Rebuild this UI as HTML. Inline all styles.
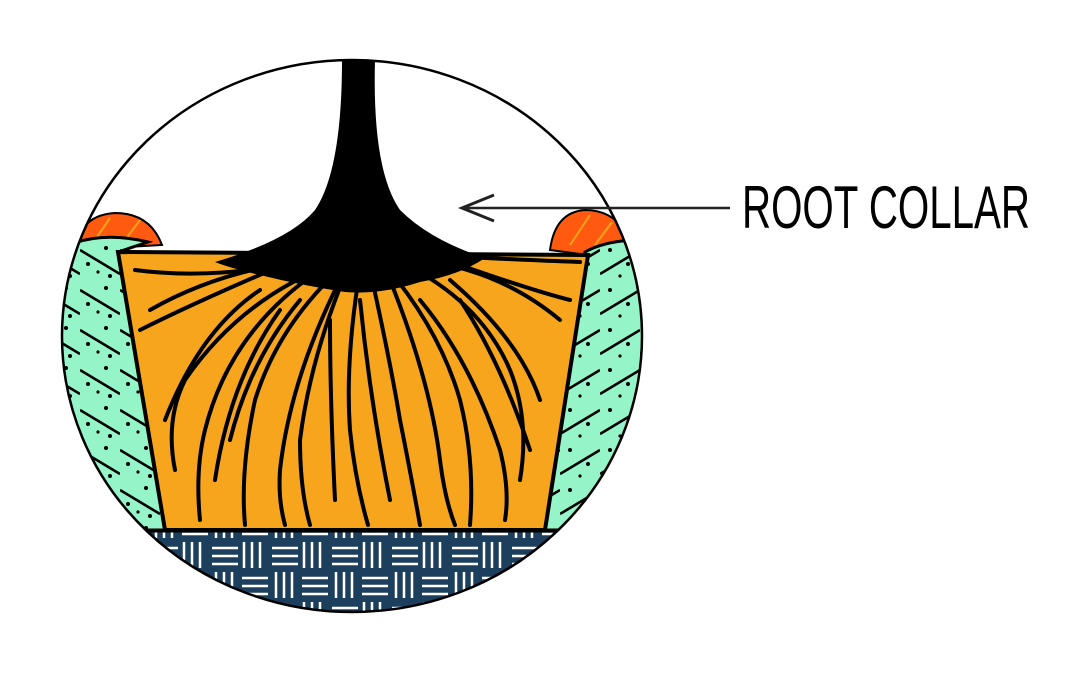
<!DOCTYPE html>
<html><head><meta charset="utf-8"><style>html,body{margin:0;padding:0;background:#fff;width:1080px;height:675px;overflow:hidden}</style></head>
<body>
<svg width="1080" height="675" viewBox="0 0 1080 675" xmlns="http://www.w3.org/2000/svg">
<defs>
<clipPath id="c"><ellipse cx="352" cy="336" rx="290" ry="276"/></clipPath>
<pattern id="weave" width="60" height="60" patternUnits="userSpaceOnUse">
<rect width="60" height="60" fill="#1d3f5e"/>
<g stroke="#fff" stroke-width="2.5">
<line x1="4" y1="2" x2="4" y2="28"/><line x1="12" y1="2" x2="12" y2="28"/><line x1="20" y1="2" x2="20" y2="28"/>
<line x1="32" y1="8" x2="58" y2="8"/><line x1="32" y1="16" x2="58" y2="16"/><line x1="32" y1="24" x2="58" y2="24"/>
<line x1="2" y1="38" x2="28" y2="38"/><line x1="2" y1="46" x2="28" y2="46"/><line x1="2" y1="54" x2="28" y2="54"/>
<line x1="36" y1="32" x2="36" y2="58"/><line x1="44" y1="32" x2="44" y2="58"/><line x1="52" y1="32" x2="52" y2="58"/>
</g></pattern>
<pattern id="gL" width="40" height="40" patternUnits="userSpaceOnUse">
<rect width="40" height="40" fill="#95f5c8"/>
<line x1="0" y1="10" x2="40" y2="34" stroke="#000" stroke-width="2.5"/>
<circle cx="8" cy="24" r="2"/><circle cx="26" cy="8" r="2"/><circle cx="30" cy="36" r="2"/><circle cx="18" cy="32" r="1.6"/>
</pattern>
<pattern id="gR" width="40" height="40" patternUnits="userSpaceOnUse">
<rect width="40" height="40" fill="#95f5c8"/>
<line x1="0" y1="34" x2="40" y2="10" stroke="#000" stroke-width="2.5"/>
<circle cx="10" cy="10" r="2"/><circle cx="28" cy="24" r="2"/><circle cx="20" cy="36" r="1.6"/>
</pattern>
</defs>
<g clip-path="url(#c)">
<path d="M75 250 Q80 215 115 213 Q150 213 162 245 Z" fill="#ff5a10" stroke="#000" stroke-width="2"/>
<path d="M550 250 Q555 212 585 210 Q610 210 625 230 L625 260 Z" fill="#ff5a10" stroke="#000" stroke-width="2"/>
<g stroke="#f7a51c" stroke-width="2"><line x1="95" y1="240" x2="110" y2="218"/><line x1="125" y1="240" x2="140" y2="220"/><line x1="570" y1="245" x2="590" y2="215"/><line x1="595" y1="245" x2="612" y2="222"/></g>
<path d="M50 255 Q90 228 148 242 L118 252 L165 530 L50 530 Z" fill="url(#gL)" stroke="#000" stroke-width="3"/>
<path d="M655 240 Q610 238 585 252 L545 530 L655 530 Z" fill="url(#gR)" stroke="#000" stroke-width="3"/>
<rect x="40" y="530" width="620" height="100" fill="url(#weave)"/>
<line x1="40" y1="531" x2="660" y2="531" stroke="#000" stroke-width="3"/>
</g>
<path d="M118 252 L588 255 L545 530 L165 530 Z" fill="#f7a51c" stroke="#000" stroke-width="4"/>
<g fill="none" stroke="#000" stroke-width="4" stroke-linecap="round">
<path d="M350 260 Q280 320 255 400 Q240 470 245 525"/>
<path d="M330 265 Q240 300 185 380 Q165 420 175 470"/>
<path d="M310 260 Q220 270 150 310"/>
<path d="M300 262 Q210 280 135 270"/>
<path d="M290 262 Q200 300 140 330"/>
<path d="M320 270 Q230 330 205 430 Q195 470 200 520"/>
<path d="M345 275 Q310 360 300 440 Q300 490 310 525"/>
<path d="M360 270 Q345 360 350 430 Q355 480 368 525"/>
<path d="M370 270 Q390 360 400 420 Q410 470 420 525"/>
<path d="M385 265 Q440 330 460 400 Q475 460 470 525"/>
<path d="M400 262 Q480 300 510 370 Q530 420 520 480"/>
<path d="M420 260 Q500 270 560 320"/>
<path d="M430 255 Q520 260 580 262"/>
<path d="M440 258 Q530 290 570 300"/>
<path d="M390 280 Q430 380 440 460 Q445 500 455 525"/>
<path d="M340 280 Q290 380 280 470 Q278 500 285 525"/>
<path d="M260 290 Q200 330 165 420"/>
<path d="M450 280 Q520 340 540 400"/>
<path d="M420 300 Q470 360 500 450 Q510 490 505 520"/>
<path d="M300 300 Q250 360 230 440"/>
<path d="M360 300 Q370 400 390 500"/>
<path d="M330 320 Q330 400 335 500"/>
<path d="M280 310 Q230 380 215 480"/>
<path d="M460 300 Q500 360 530 450"/>
</g>
<path d="M342 60 L375 60 Q372 170 400 210 Q430 240 485 258 Q460 275 420 282 Q380 295 345 292 Q300 285 260 275 Q230 268 215 262 Q290 240 315 210 Q342 170 342 60 Z" fill="#000"/>
<ellipse cx="352" cy="336" rx="290" ry="276" fill="none" stroke="#000" stroke-width="2.5"/>
<line x1="462" y1="208" x2="730" y2="208" stroke="#222" stroke-width="2.5"/>
<polyline points="494,195 462,208 494,221" fill="none" stroke="#222" stroke-width="3"/>
<text x="742" y="228" font-family="Liberation Sans Narrow, Liberation Sans, sans-serif" font-size="60" textLength="288" lengthAdjust="spacingAndGlyphs">ROOT COLLAR</text>
</svg>
</body></html>
